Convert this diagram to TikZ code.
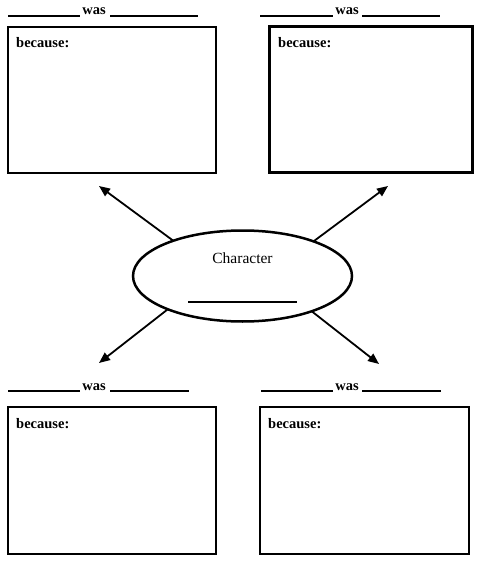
\documentclass[tikz,border=0pt]{standalone}
\usepackage{fontspec}
\setmainfont{Liberation Serif}
\usetikzlibrary{shapes.geometric,arrows.meta}
\begin{document}
\begin{tikzpicture}[x=1pt,y=-1pt,
  answerbox/.style={draw,line width=2.6pt,anchor=north west,inner sep=0pt,outer sep=0pt},
  blankline/.style={line width=1.3pt},
  waslabel/.style={font=\bfseries\fontsize{14.5}{17}\selectfont,anchor=base,inner sep=0pt},
  becauselabel/.style={font=\bfseries\fontsize{14.5}{17}\selectfont,anchor=base west,inner sep=0pt},
  pointer/.style={line width=1.8pt,-{Triangle[length=11pt,width=9pt]}}]
\useasboundingbox (0,0) rectangle (483,561);
% top-left
\draw[blankline] (8,16) -- (80,16);
\node[waslabel] (w1) at (94,15) {was};
\draw[blankline] (110,16) -- (198,16);
\node[answerbox,minimum width=208pt,minimum height=146pt] (b1) at (8,27) {};
\node[becauselabel] (c1) at (16,48) {because:};
% top-right
\draw[blankline] (260,16) -- (333,16);
\node[waslabel] (w2) at (347,15) {was};
\draw[blankline] (362,16) -- (440,16);
\node[answerbox,line width=3pt,minimum width=203pt,minimum height=146pt] (b2) at (269,27) {};
\node[becauselabel] (c2) at (278,48) {because:};
% bottom-left
\draw[blankline] (8,391) -- (80,391);
\node[waslabel] (w3) at (94,390) {was};
\draw[blankline] (110,391) -- (189,391);
\node[answerbox,minimum width=208pt,minimum height=147pt] (b3) at (8,407) {};
\node[becauselabel] (c3) at (16,428) {because:};
% bottom-right
\draw[blankline] (261,391) -- (333,391);
\node[waslabel] (w4) at (347,390) {was};
\draw[blankline] (362,391) -- (441,391);
\node[answerbox,minimum width=209pt,minimum height=147pt] (b4) at (260,407) {};
\node[becauselabel] (c4) at (268,428) {because:};
% centre
\node[draw,ellipse,line width=2.5pt,minimum width=219pt,minimum height=91pt,inner sep=0pt,outer sep=0pt] (ch) at (242.5,276) {};
\node[font=\fontsize{15.5}{18}\selectfont,anchor=base,inner sep=0pt] (ct) at (242.5,263) {Character};
\draw[blankline] (188,302) -- (297,302);
% arrows
\coordinate (t1) at (99,186);
\coordinate (t2) at (388,186);
\coordinate (t3) at (99,363);
\coordinate (t4) at (379,364);
\draw[pointer] (ch.153.6) -- (t1);
\draw[pointer] (ch.26.4) -- (t2);
\draw[pointer] (ch.204.2) -- (t3);
\draw[pointer] (ch.333.3) -- (t4);
\end{tikzpicture}
\end{document}
